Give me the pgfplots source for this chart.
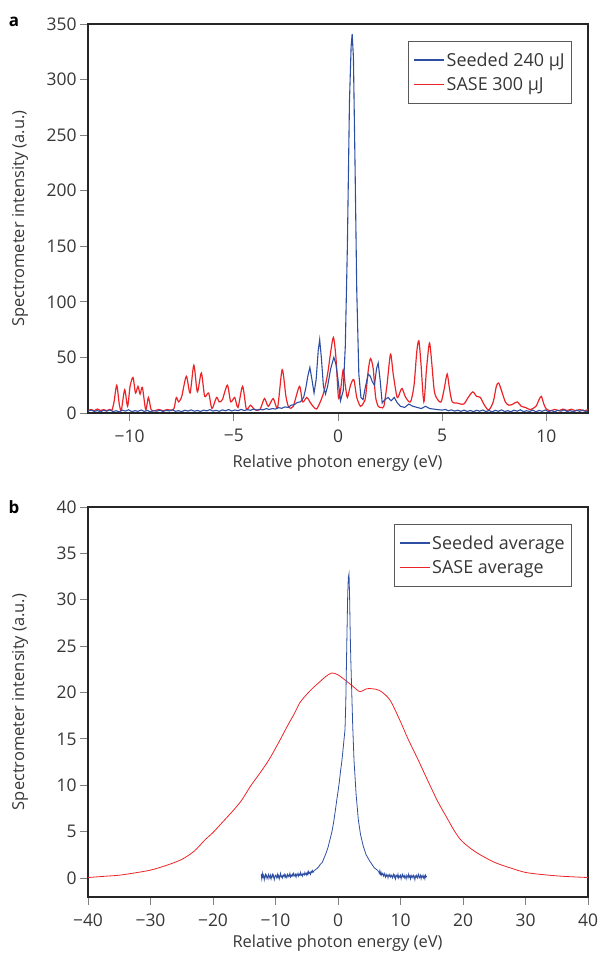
\documentclass[border=0pt]{standalone}
\usepackage{fontspec}
\setmainfont{Open Sans}
\usepackage{pgfplots}
\pgfplotsset{compat=1.18}
\definecolor{sblue}{RGB}{46,78,162}
\definecolor{sred}{RGB}{236,36,40}
\definecolor{txtgray}{RGB}{55,55,55}
\pgfplotsset{
  panel/.style={
    scale only axis, width=500bp,
    axis line style={line width=1.2pt, black!85},
    tick style={line width=0.9pt, black!50},
    tick align=outside, major tick length=8bp,
    xtick pos=lower, ytick pos=left,
    ticklabel style={font=\fontsize{17.5}{20}\selectfont, text=txtgray},
    xticklabel style={yshift=-5bp},
    label style={font=\fontsize{16.5}{19}\selectfont, text=txtgray},
    /pgf/number format/assume math mode=true,
    ylabel style={at={(axis description cs:-0.136,0.5)}, anchor=center},
    legend cell align=left, reverse legend,
    legend style={draw=black!65, line width=0.6pt, font=\fontsize{18}{20}\selectfont, text=txtgray,
      inner xsep=5bp, inner ysep=9bp, row sep=6bp},
    legend image code/.code={\draw[#1, line width=1.1pt] (0bp,0bp) -- (30bp,0bp);},
  }
}
\begin{document}
\begin{tikzpicture}[x=1bp,y=1bp]
\useasboundingbox (0,0) rectangle (599,954);
\node[font=\bfseries\fontsize{17}{19}\selectfont, anchor=center] at (14,932) {a};
\node[font=\bfseries\fontsize{17}{19}\selectfont, anchor=center] at (14,447) {b};
% ---------------- panel a
\begin{axis}[panel, at={(88bp,541bp)}, anchor=south west, height=389bp,
  xmin=-12, xmax=12, ymin=0, ymax=350,
  xtick={-10,-5,0,5,10}, xticklabels={−10,−5,0,5,10},
  ytick={0,50,...,350},
  xlabel={Relative photon energy (eV)}, ylabel={Spectrometer intensity (a.u.)},
  xlabel style={at={(axis description cs:0.499,-0.1285)}, anchor=center},
  legend style={at={(0.968,0.956)}, anchor=north east},
]
\addplot[sred, line width=1.2pt, smooth, tension=0.45] coordinates {
(-12,2) (-11.85,3.2) (-11.7,2) (-11.55,3.6) (-11.4,2.2) (-11.25,3.0) (-11.1,2.1) (-10.95,3.2) (-10.85,2.5) (-10.75,10) (-10.62,25) (-10.5,8) (-10.4,2.5) (-10.24,21) (-10.1,6) (-9.98,24) (-9.84,32) (-9.72,18) (-9.6,24) (-9.5,17) (-9.39,23) (-9.23,3) (-9.1,14) (-8.97,3) (-8.8,2) (-8.6,3.2) (-8.4,2) (-8.2,3.1) (-8.0,2.5) (-7.87,4) (-7.76,14) (-7.65,10) (-7.5,15) (-7.28,33) (-7.1,18) (-6.92,43) (-6.75,19) (-6.56,36) (-6.4,15) (-6.21,18) (-6.05,4) (-5.83,14) (-5.7,10) (-5.55,12) (-5.31,25) (-5.15,10) (-4.96,14) (-4.8,5) (-4.58,24) (-4.4,3.6) (-4.2,7) (-4.0,3) (-3.75,3) (-3.53,13) (-3.35,6) (-3.11,13) (-2.9,5) (-2.68,39) (-2.5,15) (-2.36,5) (-2.15,6) (-1.85,24) (-1.7,10) (-1.5,14) (-1.35,10) (-1.2,6) (-1.03,3.6) (-0.85,10) (-0.68,19) (-0.5,35) (-0.35,55) (-0.22,68) (-0.1,50) (0.02,14) (0.12,20) (0.25,39) (0.35,25) (0.45,14) (0.6,25) (0.76,30) (0.9,14) (1.08,6) (1.22,9) (1.32,14) (1.45,38) (1.56,49) (1.69,40) (1.8,15) (1.93,6) (2.08,5) (2.2,6) (2.35,25) (2.52,53) (2.65,35) (2.84,14) (3.0,20) (3.08,22) (3.25,14) (3.48,10) (3.65,25) (3.78,55) (3.88,65) (3.98,45) (4.12,10) (4.25,40) (4.39,63) (4.5,45) (4.62,20) (4.76,12.6) (4.95,10) (5.1,22) (5.24,35) (5.35,22) (5.48,10) (5.7,9) (6.03,8) (6.25,14) (6.47,19) (6.65,15) (6.83,14) (7.0,8) (7.23,2.6) (7.45,10) (7.6,24) (7.71,27) (7.85,20) (8.03,10) (8.2,7) (8.4,8) (8.6,10) (8.8,6) (9.0,5) (9.23,3) (9.5,6) (9.65,12) (9.76,15) (9.88,8) (10.0,3.6) (10.2,2) (10.4,3.2) (10.6,2.1) (10.8,3.5) (11.0,2.2) (11.2,3.4) (11.4,2) (11.6,3.1) (11.8,2) (12,3)
};
\addlegendentry{SASE 300 μJ}
\addplot[sblue, line width=1.1pt] coordinates {
(-12,1.8) (-11.85,2.6) (-11.7,1.4) (-11.55,2.2) (-11.4,1.0) (-11.25,2.4) (-11.1,1.6) (-10.95,2.8) (-10.8,1.3) (-10.65,2.0) (-10.5,1.1) (-10.35,2.5) (-10.2,1.7) (-10.05,2.9) (-9.9,1.2) (-9.75,2.1) (-9.6,1.5) (-9.45,2.7) (-9.3,1.4) (-9.15,2.3) (-9.0,1.0) (-8.85,2.2) (-8.7,1.6) (-8.55,2.6) (-8.4,1.3) (-8.25,2.4) (-8.1,1.8) (-7.95,2.9) (-7.8,1.5) (-7.65,2.1) (-7.5,1.2) (-7.35,2.5) (-7.2,1.7) (-7.05,2.8) (-6.9,1.6) (-6.75,2.3) (-6.6,1.4) (-6.45,2.6) (-6.3,1.9) (-6.15,3.0) (-6.0,1.7) (-5.85,2.4) (-5.7,1.5) (-5.55,2.8) (-5.4,2.0) (-5.25,3.1) (-5.1,1.8) (-4.95,2.7) (-4.8,2.1) (-4.65,3.2) (-4.5,2.2) (-4.35,3.0) (-4.2,2.4) (-4.05,3.5) (-3.9,2.6) (-3.75,3.3) (-3.6,2.8) (-3.45,3.9) (-3.3,3.2) (-3.15,4.0) (-3.0,3.5) (-2.85,4.8) (-2.7,4.2) (-2.55,5.5) (-2.4,5.0) (-2.25,7.0) (-2.1,7.5) (-1.95,9.5) (-1.8,10) (-1.65,14) (-1.55,22) (-1.45,33) (-1.35,41) (-1.25,30) (-1.15,18) (-1.05,30) (-0.95,56) (-0.88,66) (-0.8,50) (-0.7,24) (-0.6,17) (-0.5,24) (-0.35,40) (-0.2,50) (-0.1,44) (0.0,30) (0.12,11) (0.25,20) (0.35,60) (0.45,150) (0.55,280) (0.63,330) (0.68,341) (0.74,320) (0.82,220) (0.9,110) (1.0,35) (1.1,14) (1.2,12) (1.3,22) (1.45,35) (1.55,33) (1.65,28) (1.75,25) (1.85,40) (1.93,45) (2.02,30) (2.12,9) (2.25,12) (2.4,14) (2.55,11) (2.7,14) (2.85,9) (3.0,6) (3.2,5) (3.4,8) (3.6,6) (3.8,5) (4.0,4) (4.2,6) (4.4,4) (4.6,3.5) (4.8,3) (5.0,2.6) (5.15,3.2) (5.3,2.0) (5.45,2.8) (5.6,1.7) (5.75,2.5) (5.9,1.5) (6.05,2.6) (6.2,1.4) (6.35,2.3) (6.5,1.2) (6.65,2.4) (6.8,1.6) (6.95,2.7) (7.1,1.3) (7.25,2.2) (7.4,1.0) (7.55,2.4) (7.7,1.5) (7.85,2.8) (8.0,1.3) (8.15,2.1) (8.3,1.1) (8.45,2.5) (8.6,1.6) (8.75,2.9) (8.9,1.2) (9.05,2.0) (9.2,1.4) (9.35,2.6) (9.5,1.1) (9.65,2.3) (9.8,1.5) (9.95,2.7) (10.1,1.2) (10.25,2.2) (10.4,1.0) (10.55,2.4) (10.7,1.6) (10.85,2.8) (11.0,1.3) (11.15,2.1) (11.3,1.1) (11.45,2.5) (11.6,1.5) (11.75,2.7) (11.9,1.2) (12,2.0)
};
\addlegendentry{Seeded 240 μJ}
\end{axis}
% ---------------- panel b
\begin{axis}[panel, at={(88bp,57bp)}, anchor=south west, height=390bp,
  xmin=-40, xmax=40, ymin=-2.05, ymax=40,
  xtick={-40,-30,...,40}, xticklabels={−40,−30,−20,−10,0,10,20,30,40},
  ytick={0,5,...,40},
  xlabel={Relative photon energy (eV)}, ylabel={Spectrometer intensity (a.u.)},
  xlabel style={at={(axis description cs:0.499,-0.118)}, anchor=center},
  legend style={at={(0.968,0.956)}, anchor=north east},
]
\addplot[sred, line width=0.8pt, smooth, tension=0.5] coordinates {
(-40,0.05) (-37,0.2) (-35,0.3) (-32.5,0.55) (-30,0.85) (-27.5,1.35) (-25,2.0) (-23,2.9) (-21.3,4.1) (-20,4.9) (-18.5,6.0) (-17,7.1) (-15.5,8.3) (-14,9.9) (-12.5,11.3) (-11,12.8) (-9.5,14.6) (-8,16.5) (-7,17.7) (-6.1,18.9) (-5,19.8) (-4,20.5) (-3,21.1) (-2,21.7) (-1,22.1) (0,21.9) (1.4,21.2) (2.5,20.6) (3.5,20.1) (4.6,20.4) (5.5,20.4) (6.7,20.2) (8.3,19.2) (9.9,17.0) (11.2,15.0) (12.85,12.7) (14.5,10.3) (16,8.2) (17.5,6.4) (18.6,5.1) (19.65,4.1) (21,3.3) (22.5,2.6) (25,1.7) (27.5,1.1) (30,0.6) (33,0.35) (36,0.18) (40,0.05)
};
\addlegendentry{SASE average}
\addplot[sblue, line width=0.8pt] coordinates {
(-12.3,0.4) (-12.2,-0.1) (-12.1,0.5) (-12.0,0.1) (-11.9,0.3) (-11.8,-0.2) (-11.7,0.2) (-11.6,0.4) (-11.5,0.0) (-11.4,0.3) (-11.3,0.1) (-11.2,-0.1) (-11.1,0.4) (-11.0,0.2) (-10.9,0.0) (-10.8,0.3) (-10.7,-0.1) (-10.6,0.2) (-10.5,0.4) (-10.4,0.1) (-10.3,0.3) (-10.2,-0.2) (-10.1,0.1) (-10.0,0.3) (-9.9,0.2) (-9.8,0.0) (-9.7,0.4) (-9.6,0.1) (-9.5,0.3) (-9.4,-0.1) (-9.3,0.2) (-9.2,0.5) (-9.1,0.1) (-9.0,0.2) (-8.9,0.0) (-8.8,0.3) (-8.7,0.2) (-8.6,0.4) (-8.5,0.1) (-8.4,0.3) (-8.3,0.0) (-8.2,0.2) (-8.1,0.4) (-8.0,0.1) (-7.9,0.3) (-7.8,0.2) (-7.7,0.5) (-7.6,0.1) (-7.5,0.3) (-7.4,0.2) (-7.3,0.4) (-7.2,0.2) (-7.1,0.5) (-7.0,0.3) (-6.9,0.2) (-6.8,0.4) (-6.7,0.1) (-6.6,0.4) (-6.5,0.3) (-6.4,0.5) (-6.3,0.2) (-6.2,0.4) (-6.1,0.3) (-6.0,0.6) (-5.9,0.3) (-5.8,0.4) (-5.7,0.2) (-5.6,0.5) (-5.5,0.4) (-5.4,0.3) (-5.3,0.6) (-5.2,0.4) (-5.1,0.5) (-5.0,0.3) (-4.9,0.6) (-4.8,0.4) (-4.7,0.7) (-4.6,0.5) (-4.5,0.6) (-4.4,0.4) (-4.3,0.7) (-4.2,0.6) (-4.1,0.8) (-4.0,0.6) (-3.8,0.8) (-3.6,0.9) (-3.4,1.0) (-3.1,1.2) (-2.8,1.5) (-2.5,1.7) (-2.2,2.2) (-1.9,2.7) (-1.6,3.3) (-1.3,4.1) (-1.0,4.9) (-0.7,6.0) (-0.4,7.4) (-0.2,8.4) (0.0,9.3) (0.2,10.3) (0.42,11.6) (0.6,12.5) (0.8,13.8) (1.0,15.2) (1.12,16.0) (1.25,19) (1.4,25) (1.55,30.5) (1.65,32.4) (1.76,32.8) (1.85,30.5) (1.95,26.5) (2.05,23.5) (2.18,20.5) (2.35,16.5) (2.56,12.7) (2.9,9.0) (3.25,6.3) (3.6,4.7) (4.05,3.4) (4.5,2.5) (5.1,1.8) (5.8,1.1) (6.2,0.9) (6.5,0.7) (6.6,0.5) (6.7,0.8) (6.8,0.4) (6.9,0.6) (7.0,0.3) (7.1,0.5) (7.2,0.4) (7.3,0.2) (7.4,0.5) (7.5,0.3) (7.6,0.1) (7.7,0.4) (7.8,0.2) (7.9,0.3) (8.0,0.0) (8.1,0.3) (8.2,0.2) (8.3,0.4) (8.4,0.1) (8.5,0.2) (8.6,0.3) (8.7,0.0) (8.8,0.2) (8.9,0.4) (9.0,0.1) (9.1,0.3) (9.2,-0.1) (9.3,0.2) (9.4,0.3) (9.5,0.1) (9.6,0.4) (9.7,0.0) (9.8,0.2) (9.9,0.1) (10.0,0.3) (10.1,-0.1) (10.2,0.2) (10.3,0.4) (10.4,0.1) (10.5,0.2) (10.6,0.0) (10.7,0.3) (10.8,0.1) (10.9,-0.1) (11.0,0.3) (11.1,0.2) (11.2,0.0) (11.3,0.4) (11.4,0.1) (11.5,0.2) (11.6,-0.1) (11.7,0.3) (11.8,0.1) (11.9,0.2) (12.0,0.0) (12.1,0.3) (12.2,0.2) (12.3,-0.2) (12.4,0.2) (12.5,0.1) (12.6,0.3) (12.7,0.0) (12.8,0.2) (12.9,0.4) (13.0,0.0) (13.1,0.1) (13.2,0.3) (13.3,-0.1) (13.4,0.2) (13.5,0.1) (13.6,0.3) (13.7,0.0) (13.8,0.2) (13.9,-0.1) (14.0,0.3) (14.1,0.1) (14.2,0.2)
};
\addlegendentry{Seeded average}
\end{axis}
\end{tikzpicture}
\end{document}
